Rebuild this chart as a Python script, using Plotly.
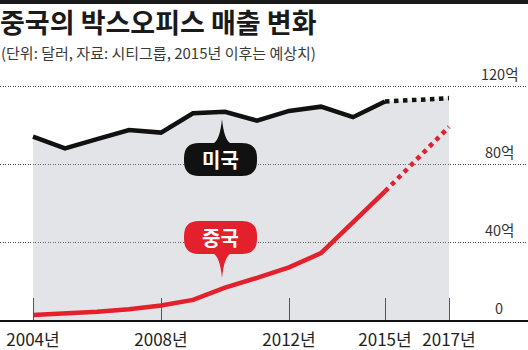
import plotly.graph_objects as go

# ---- data (억 달러) ----
years = [2004, 2005, 2006, 2007, 2008, 2009, 2010, 2011, 2012, 2013, 2014, 2015]
us_values = [94, 88, 92.8, 97.4, 96.1, 106, 106.8, 102.2, 107.2, 109.4, 104, 112]
china_values = [2.6, 3.3, 4.2, 5.5, 7.4, 10.3, 16.6, 21.6, 27.0, 34.3, 50, 66]
proj_years = [2015, 2017]
us_proj = [112, 113.8]
china_proj = [66, 99]
tick_years = [2004, 2008, 2012, 2015, 2017]
tick_text = ["2004년", "2008년", "2012년", "2015년", "2017년"]
y_ticks = [0, 40, 80, 120]
y_tick_text = ["0", "40억", "80억", "120억"]

title = "중국의 박스오피스 매출 변화"
subtitle = "(단위: 달러, 자료: 시티그룹, 2015년 이후는 예상치)"

FONT = "Noto Sans CJK KR"
W, H = 528, 350
T, B = 60, 30
PLOT_H = H - T - B
BASE_Y = H - B
PX_PER_UNIT = 1.95
X0_PX, PX_PER_YEAR = 33, 32

RED = "#e3202c"
BLACK = "#111111"


def px(xp, yp):
    return xp / W, (BASE_Y - yp) / PLOT_H


def bubble_path(x0, y0, x1, y1, r, tip, up=True):
    # rounded rectangle with pointer; coords in pixels -> paper
    cx = tip[0]
    bw = 8
    def P(x, y):
        a, b = px(x, y)
        return f"{a:.5f},{b:.5f}"
    d = f"M {P(x0 + r, y0)} "
    if up:
        d += f"L {P(cx - bw, y0)} Q {P(cx - 2, y0 - 4)} {P(tip[0], tip[1])} Q {P(cx + 2, y0 - 4)} {P(cx + bw, y0)} "
    d += f"L {P(x1 - r, y0)} Q {P(x1, y0)} {P(x1, y0 + r)} "
    d += f"L {P(x1, y1 - r)} Q {P(x1, y1)} {P(x1 - r, y1)} "
    if not up:
        d += f"L {P(cx + bw, y1)} Q {P(cx + 2, y1 + 4)} {P(tip[0], tip[1])} Q {P(cx - 2, y1 + 4)} {P(cx - bw, y1)} "
    d += f"L {P(x0 + r, y1)} Q {P(x0, y1)} {P(x0, y1 - r)} "
    d += f"L {P(x0, y0 + r)} Q {P(x0, y0)} {P(x0 + r, y0)} Z"
    return d


fig = go.Figure()

fig.add_trace(go.Scatter(
    x=years + proj_years[1:], y=us_values + us_proj[1:],
    mode="lines", line=dict(width=0, color="rgba(0,0,0,0)"),
    fill="tozeroy", fillcolor="rgba(175,180,190,0.36)", hoverinfo="skip", showlegend=False))

fig.add_trace(go.Scatter(x=years, y=us_values, mode="lines",
                         line=dict(color=BLACK, width=4.5), showlegend=False))
fig.add_trace(go.Scatter(x=proj_years, y=us_proj, mode="lines",
                         line=dict(color=BLACK, width=4.5, dash="dot"), showlegend=False))
fig.add_trace(go.Scatter(x=years, y=china_values, mode="lines",
                         line=dict(color=RED, width=4.5), showlegend=False))
fig.add_trace(go.Scatter(x=proj_years, y=china_proj, mode="lines",
                         line=dict(color=RED, width=4.5, dash="dot"), showlegend=False))

x_lo = 2004 - X0_PX / PX_PER_YEAR
x_hi = 2004 + (W - X0_PX) / PX_PER_YEAR

shapes = []
# top bar
a0, b0 = px(0, 0)
a1, b1 = px(W, 4)
shapes.append(dict(type="rect", xref="paper", yref="paper", x0=0, x1=1, y0=b1, y1=b0,
                   fillcolor="#1a1a1a", line=dict(width=0)))
# bubbles
shapes.append(dict(type="path", xref="paper", yref="paper",
                   path=bubble_path(184, 143, 257, 176, 15, (222, 119), up=True),
                   fillcolor="#111111", line=dict(width=0), layer="above"))
shapes.append(dict(type="path", xref="paper", yref="paper",
                   path=bubble_path(184, 221, 257, 254, 15, (222, 278), up=False),
                   fillcolor=RED, line=dict(width=0), layer="above"))

annotations = []
tx, ty = px(0, 21.5)
annotations.append(dict(text=title, xref="paper", yref="paper", x=-0.004, y=ty,
                        xanchor="left", yanchor="middle", showarrow=False,
                        font=dict(family=FONT, size=27, color="#1a1a1a", weight=700)))
sx, sy = px(0, 52.5)
annotations.append(dict(text=subtitle, xref="paper", yref="paper", x=-0.002, y=sy,
                        xanchor="left", yanchor="middle", showarrow=False,
                        font=dict(family=FONT, size=15, color="#3a3a3a")))
for v, t in zip(y_ticks, y_tick_text):
    annotations.append(dict(text=t, xref="paper", yref="y", x=499 / W, y=v, yshift=13,
                            xanchor="center", yanchor="middle", showarrow=False,
                            font=dict(family=FONT, size=14.5, color="#333333")))
ux, uy = px(220.5, 159.5)
annotations.append(dict(text="미국", xref="paper", yref="paper", x=ux, y=uy,
                        xanchor="center", yanchor="middle", showarrow=False,
                        font=dict(family=FONT, size=20, color="white", weight=700)))
cx_, cy_ = px(220.5, 237.5)
annotations.append(dict(text="중국", xref="paper", yref="paper", x=cx_, y=cy_,
                        xanchor="center", yanchor="middle", showarrow=False,
                        font=dict(family=FONT, size=20, color="white", weight=700)))

fig.update_layout(
    width=W, height=H,
    margin=dict(l=0, r=0, t=T, b=B),
    paper_bgcolor="white", plot_bgcolor="white",
    font=dict(family=FONT),
    xaxis=dict(range=[x_lo, x_hi], tickvals=tick_years, ticktext=tick_text,
               ticks="inside", ticklen=22, tickcolor="#555555", tickwidth=1,
               showgrid=False, zeroline=False, showline=True, linecolor="#111111",
               linewidth=1.5, tickfont=dict(family=FONT, size=17, color="#222222"),
               ticklabelstandoff=4, fixedrange=True),
    yaxis=dict(range=[0, PLOT_H / PX_PER_UNIT], tickvals=y_ticks[1:], showticklabels=False,
               showgrid=True, gridcolor="#444444", griddash="1px,1.5px", gridwidth=1,
               zeroline=False, showline=False, fixedrange=True),
    shapes=shapes, annotations=annotations,
    showlegend=False,
)

fig.write_html("out.html")
